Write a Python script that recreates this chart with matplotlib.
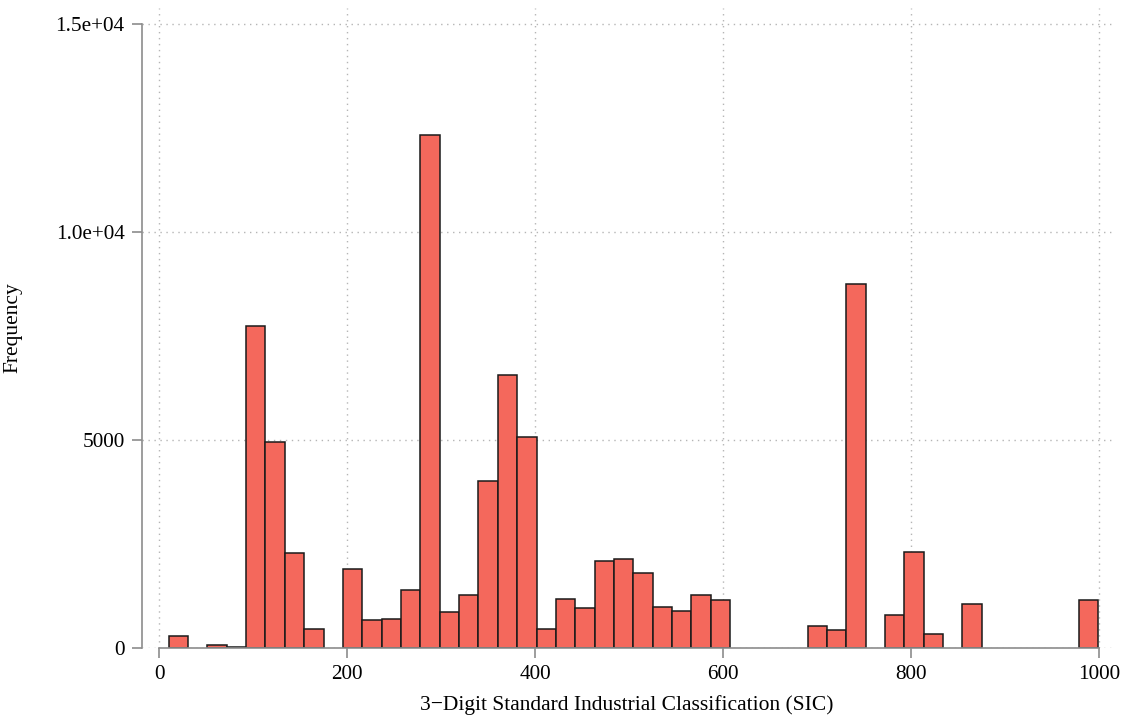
import numpy as np
import matplotlib
matplotlib.use("Agg")
import matplotlib.pyplot as plt

BAR   = "#F4685C"
EDGE  = "#1A1A1A"
AXIS  = "#8C8C8C"
GRID  = "#B5B5B5"

# histogram of 3-digit SIC codes, 48 equal bins between the min and max code
SIC_MIN, SIC_MAX, N_BINS = 10, 999, 48
counts = [
    281, 0, 65, 15, 7734, 4938, 2284, 442, 0, 1892,
    658, 682, 1380, 12333, 858, 1260, 4015, 6556, 5058, 457,
    1163, 947, 2092, 2125, 1788, 978, 890, 1260, 1154, 0,
    0, 0, 0, 529, 418, 8751, 0, 779, 2308, 322,
    0, 1043, 0, 0, 0, 0, 0, 1147,
]
x_ticks = [0, 200, 400, 600, 800, 1000]
y_ticks = [0, 5000, 10000, 15000]
y_tick_labels = ["0", "5000", "1.0e+04", "1.5e+04"]

plt.rcParams["font.family"] = ["Liberation Serif", "DejaVu Serif"]

edges = np.linspace(SIC_MIN, SIC_MAX, N_BINS + 1)
counts = np.array(counts, dtype=float)
keep = counts > 0

fig = plt.figure(figsize=(11.3, 7.2), dpi=100)
ax = fig.add_axes([142 / 1130, 1 - 647.7 / 720, (1112 - 142) / 1130, (647.7 - 8) / 720])

ax.bar(edges[:-1][keep], counts[keep], width=np.diff(edges)[keep], align="edge",
       color=BAR, edgecolor=EDGE, linewidth=1.1, zorder=3)

ax.set_xlim(-18.4, 1014)
ax.set_ylim(0, 15380)

ax.set_xticks(x_ticks)
ax.set_yticks(y_ticks)
ax.set_yticklabels(y_tick_labels)
ax.grid(True, linestyle=(0, (1, 3.3)), color=GRID, linewidth=1.0, zorder=0)

for side in ("top", "right"):
    ax.spines[side].set_visible(False)
ax.spines["left"].set_bounds(0, 15000)
ax.spines["bottom"].set_bounds(0, 1000)
for side in ("left", "bottom"):
    ax.spines[side].set_color(AXIS)
    ax.spines[side].set_linewidth(1.2)
    ax.spines[side].set_zorder(4)

ax.tick_params(axis="both", colors=AXIS, length=7.5, width=1.2, labelsize=15.3,
               labelcolor="black", pad=5)

ax.set_xlabel("3\u2212Digit Standard Industrial Classification (SIC)", fontsize=15.5, labelpad=8)
ax.set_ylabel("Frequency", fontsize=15.5)
ax.yaxis.set_label_coords(-0.1237, 0.5)

fig.savefig("out.png", dpi=100, facecolor="white")
